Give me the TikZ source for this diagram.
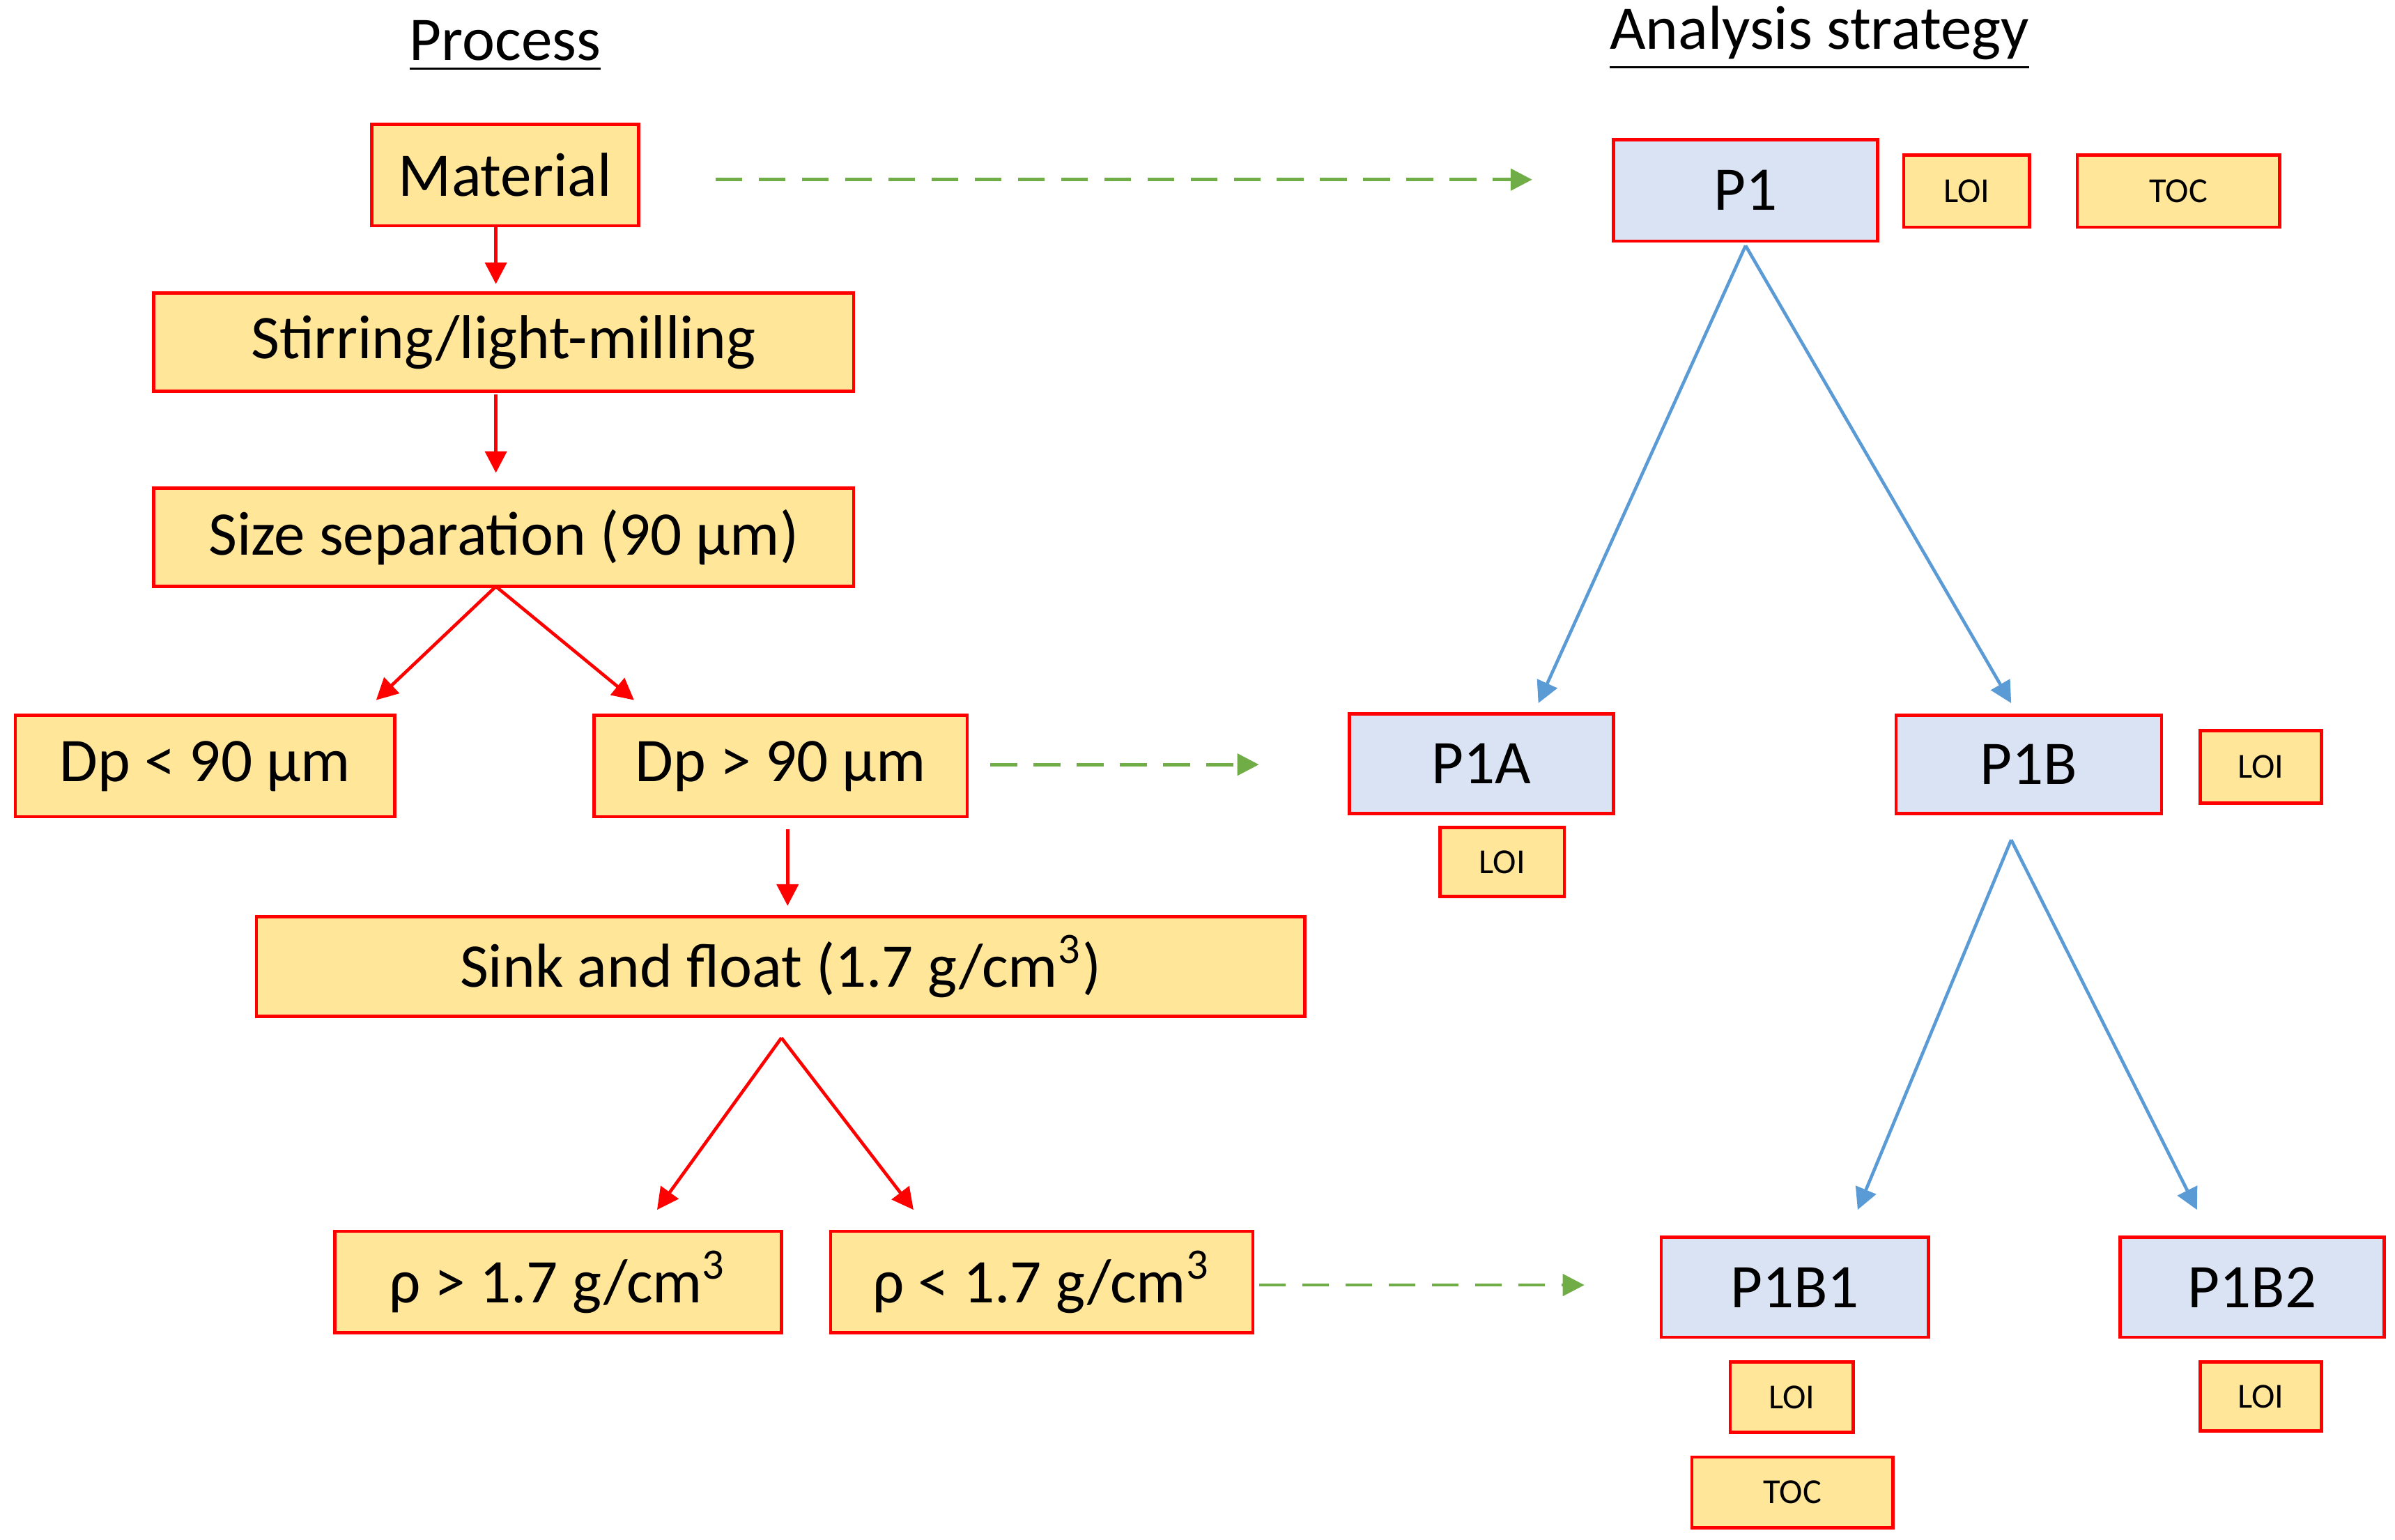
\documentclass[tikz,border=0pt]{standalone}
\usepackage{fontspec}
\setmainfont{Carlito}
\usetikzlibrary{arrows.meta}
\definecolor{yel}{HTML}{FFE699}
\definecolor{blu}{HTML}{DAE3F3}
\definecolor{barrow}{HTML}{5B9BD5}
\definecolor{garrow}{HTML}{70AD47}
\begin{document}
\begin{tikzpicture}[x=0.01cm,y=-0.01cm,
  box/.style={draw=red,line width=0.6pt,fill=yel,inner sep=0pt,font=\fontsize{11.5}{13}\selectfont},
  bbox/.style={box,fill=blu},
  sbox/.style={box,font=\fontsize{6.5}{8}\selectfont},
  ra/.style={red,line width=0.6pt,-{Triangle[length=4pt,width=4pt]}},
  ga/.style={garrow,line width=0.6pt,dashed,dash pattern=on 5pt off 3pt,-{Triangle[length=4pt,width=4pt]}},
  ba/.style={barrow,line width=0.6pt,-{Triangle[length=4pt,width=4pt]}},
  ttl/.style={font=\fontsize{11.5}{13}\selectfont,inner sep=0pt}]
\useasboundingbox (0,0) rectangle (1560,1003);
\newcommand{\bx}[6]{\node[#1,minimum width=#4*0.01cm-#2*0.01cm,minimum height=#5*0.01cm-#3*0.01cm] (#6) at ({(#2+#4)/2},{(#3+#5)/2})}
\node[ttl] (tp) at (329,30) {\underline{Process}};
\node[ttl] (ta) at (1185,25) {\underline{Analysis strategy}};
\bx{box}{242}{81}{416}{147}{mat} {Material};
\bx{box}{100}{191}{556}{255}{stir} {Stirring/light-milling};
\bx{box}{100}{318}{556}{382}{size} {Size separation (90 µm)};
\bx{box}{10}{466}{257}{532}{dpl} {Dp < 90 µm};
\bx{box}{387}{466}{630}{532}{dpg} {Dp > 90 µm};
\bx{box}{167}{597}{850}{662}{sink} {Sink and float (1.7 g/cm\textsuperscript{3})};
\bx{box}{218}{802}{509}{868}{rhog} {ρ > 1.7 g/cm\textsuperscript{3}};
\bx{box}{541}{802}{816}{868}{rhol} {ρ < 1.7 g/cm\textsuperscript{3}};
\bx{bbox}{1051}{91}{1223}{157}{p1} {P1};
\bx{sbox}{1240}{101}{1322}{148}{l1} {LOI};
\bx{sbox}{1353}{101}{1485}{148}{t1} {TOC};
\bx{bbox}{879}{465}{1051}{530}{p1a} {P1A};
\bx{sbox}{938}{539}{1019}{584}{l2} {LOI};
\bx{bbox}{1235}{466}{1408}{530}{p1b} {P1B};
\bx{sbox}{1433}{476}{1512}{523}{l3} {LOI};
\bx{bbox}{1082}{806}{1256}{871}{p1b1} {P1B1};
\bx{sbox}{1127}{887}{1207}{933}{l4} {LOI};
\bx{sbox}{1102}{949}{1233}{995}{t2} {TOC};
\bx{bbox}{1381}{806}{1553}{871}{p1b2} {P1B2};
\bx{sbox}{1433}{887}{1512}{932}{l5} {LOI};
% coordinates
\coordinate (a1) at (323,185);
\coordinate (s0) at (323,257);
\coordinate (a2) at (323,308);
\coordinate (z0) at (323,382);
\coordinate (a3) at (245,456);
\coordinate (a4) at (413,456);
\coordinate (d0) at (513,540);
\coordinate (a5) at (513,590);
\coordinate (k0) at (509,676);
\coordinate (a6) at (428,788);
\coordinate (a7) at (595,788);
\coordinate (g1s) at (466,117);
\coordinate (g1e) at (998,117);
\coordinate (g2s) at (645,498);
\coordinate (g2e) at (820,498);
\coordinate (g3s) at (820,837);
\coordinate (g3e) at (1032,837);
\coordinate (b0) at (1137,160);
\coordinate (b1) at (1002,458);
\coordinate (b2) at (1310,458);
\coordinate (c0) at (1310,547);
\coordinate (c1) at (1210,788);
\coordinate (c2) at (1431,788);
\draw[ra] (mat.south -| a1) -- (a1);
\draw[ra] (s0) -- (a2);
\draw[ra] (z0) -- (a3);
\draw[ra] (z0) -- (a4);
\draw[ra] (d0) -- (a5);
\draw[ra] (k0) -- (a6);
\draw[ra] (k0) -- (a7);
\draw[ga] (g1s) -- (g1e);
\draw[ga] (g2s) -- (g2e);
\draw[ga] (g3s) -- (g3e);
\draw[ba] (b0) -- (b1);
\draw[ba] (b0) -- (b2);
\draw[ba] (c0) -- (c1);
\draw[ba] (c0) -- (c2);
\end{tikzpicture}
\end{document}
